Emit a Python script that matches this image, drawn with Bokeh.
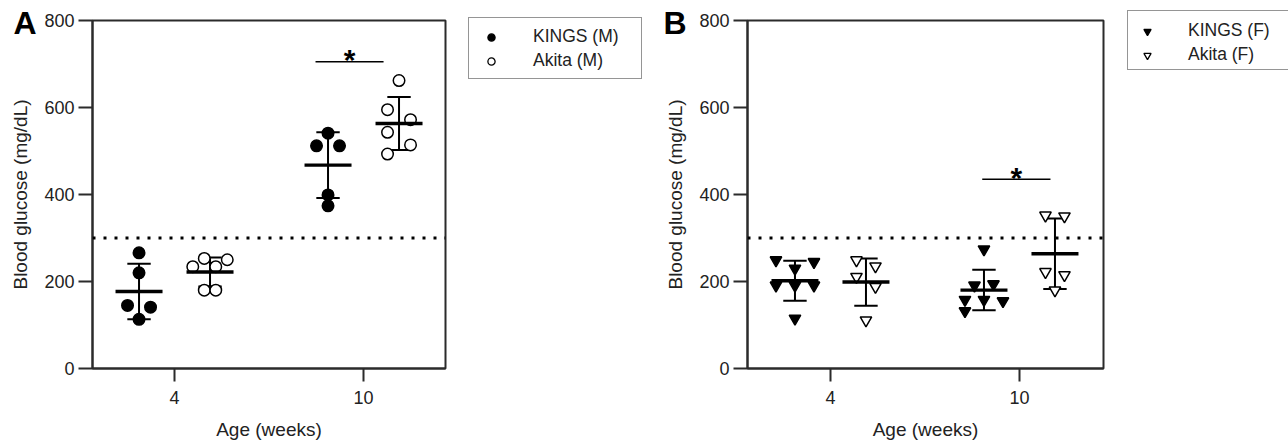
import numpy as np
from bokeh.plotting import figure
from bokeh.models import (Legend, LegendItem, Span, FixedTicker, Range1d,
                          ColumnDataSource)
from bokeh.layouts import row, column
from bokeh.embed import file_html
from bokeh.resources import INLINE
from bokeh.core.properties import value

# ---------------- data ----------------
age_ticks = [1, 2]
age_labels = ["4", "10"]

# Panel A (males)
kings_m_4 = [266, 220, 145, 141, 113]
akita_m_4 = [234, 253, 234, 250, 180, 180]
kings_m_10 = [541, 512, 512, 399, 374]
akita_m_10 = [662, 595, 572, 543, 514, 493]

# Panel B (females)
kings_f_4 = [249, 245, 230, 191, 191, 191, 115]
akita_f_4 = [249, 235, 211, 188, 111]
kings_f_10 = [274, 191, 194, 158, 158, 155, 132]
akita_f_10 = [352, 350, 222, 215, 180]

threshold = [300]
y_ticks = [0, 200, 400, 600, 800]

# significance brackets: [x0, x1, y] in data units
sig_a = [1.746, 2.106, 705]
sig_b = [1.803, 2.164, 435]

# swarm slots (horizontal spreading of overlapping points, in marker slots)
sw_kings_m_4 = [0, 0, -1, 1, 0]
sw_akita_m_4 = [-1.5, -0.5, 0.5, 1.5, -0.5, 0.5]
sw_kings_m_10 = [0, -1, 1, 0, 0]
sw_akita_m_10 = [0, -1, 1, -1, 1, -1]
sw_kings_f_4 = [-1, 1, 0, -1, 0, 1, 0]
sw_akita_f_4 = [-0.5, 0.5, -0.5, 0.5, 0]
sw_kings_f_10 = [0, -0.5, 0.5, -1, 0, 1, -1]
sw_akita_f_10 = [-0.5, 0.5, -0.5, 0.5, 0]

# ---------------- layout constants ----------------
PX_PER_UNIT = 189.0
GROUP_OFF = 35.5 / PX_PER_UNIT
MEAN_HALF = 23.5 / PX_PER_UNIT
CAP_HALF = 11.7 / PX_PER_UNIT
FONT = "Liberation Sans"
TXT = "#222222"
LINE = "#2b2b2b"
H = 443


def make_panel(width, left, right, xstart, series, letter, letter_off, sig):
    frame_w = width - left - right
    xend = xstart + frame_w / PX_PER_UNIT
    p = figure(width=width, height=H, x_range=Range1d(xstart, xend),
               y_range=Range1d(0, 800), min_border_left=left,
               min_border_right=right, min_border_top=20, min_border_bottom=75,
               output_backend="svg", toolbar_location=None, title=letter)
    p.xgrid.visible = False
    p.ygrid.visible = False
    p.outline_line_color = LINE
    p.outline_line_width = 2
    p.background_fill_color = "white"
    p.border_fill_color = "white"

    # panel letter as title
    p.title.text_font = FONT
    p.title.text_font_size = "32px"
    p.title.text_font_style = "bold"
    p.title.text_color = "black"
    p.title.align = "left"
    p.title.vertical_align = "bottom"
    p.title.offset = letter_off
    p.title.standoff = -40

    # axes
    xa = p.xaxis[0]
    xa.ticker = FixedTicker(ticks=age_ticks, minor_ticks=[])
    xa.major_label_overrides = {t: l for t, l in zip(age_ticks, age_labels)}
    xa.axis_label = "Age (weeks)"
    ya = p.yaxis[0]
    ya.ticker = FixedTicker(ticks=y_ticks, minor_ticks=[])
    ya.axis_label = "Blood glucose (mg/dL)"
    for ax in (xa, ya):
        ax.axis_line_color = LINE
        ax.axis_line_width = 2
        ax.major_tick_line_color = LINE
        ax.major_tick_line_width = 2
        ax.minor_tick_line_color = None
        ax.major_tick_in = 0
        ax.major_label_text_font = FONT
        ax.major_label_text_font_size = "18px"
        ax.major_label_text_color = TXT
        ax.axis_label_text_font = FONT
        ax.axis_label_text_font_size = "19px"
        ax.axis_label_text_font_style = "normal"
        ax.axis_label_text_color = TXT
    xa.major_tick_out = 13
    ya.major_tick_out = 14
    xa.major_label_standoff = 9
    ya.major_label_standoff = 4
    xa.axis_label_standoff = 12
    ya.axis_label_standoff = 10

    # threshold dotted line
    p.add_layout(Span(location=threshold[0], dimension="width",
                      line_color="black", line_width=3, line_dash="3 8"))

    for name, groups, marker, filled, slot_px, size in series:
        xs, ys = [], []
        for gi, (vals, sw, off) in enumerate(groups):
            base = age_ticks[gi] + off
            vals = np.asarray(vals, dtype=float)
            xs += list(base + np.asarray(sw) * slot_px / PX_PER_UNIT)
            ys += list(vals)
            m = vals.mean()
            s = vals.std(ddof=1)
            # SD whisker
            p.segment(x0=[base], y0=[m - s], x1=[base], y1=[m + s],
                      line_color="black", line_width=2)
            p.segment(x0=[base - CAP_HALF, base - CAP_HALF],
                      y0=[m - s, m + s],
                      x1=[base + CAP_HALF, base + CAP_HALF],
                      y1=[m - s, m + s], line_color="black", line_width=2)
        src = ColumnDataSource(dict(x=xs, y=ys))
        p.scatter("x", "y", source=src, marker=marker, size=size,
                  fill_color="black" if filled else "white",
                  line_color="black", line_width=1.5)
        # mean lines drawn on top
        for gi, (vals, sw, off) in enumerate(groups):
            base = age_ticks[gi] + off
            m = float(np.mean(vals))
            p.segment(x0=[base - MEAN_HALF], y0=[m], x1=[base + MEAN_HALF],
                      y1=[m], line_color="black", line_width=3.3)

    # significance marker
    p.segment(x0=[sig[0]], y0=[sig[2]], x1=[sig[1]], y1=[sig[2]],
              line_color="black", line_width=1.5)
    p.text(x=[(sig[0] + sig[1]) / 2], y=[sig[2]], text=["*"],
           text_font=value(FONT), text_font_size="30px",
           text_font_style="bold", text_align="center",
           text_baseline="alphabetic", y_offset=-2, text_color="black")
    return p


def make_legend(width, top, left, names, marker, pad, glyph_w, standoff):
    q = figure(width=width, height=H, x_range=Range1d(0, 1),
               y_range=Range1d(0, 1), min_border_left=left,
               min_border_right=0, min_border_bottom=0, min_border_top=top,
               output_backend="svg", toolbar_location=None, title=None)
    q.xaxis.visible = False
    q.yaxis.visible = False
    q.xgrid.visible = False
    q.ygrid.visible = False
    q.outline_line_color = None
    q.background_fill_color = "white"
    q.border_fill_color = "white"
    items = []
    for name, filled in zip(names, [True, False]):
        # legend-only key glyphs (placed outside the visible range)
        r = q.scatter(x=[-5.0], y=[-5.0], marker=marker, size=18,
                      fill_color="black" if filled else "white",
                      line_color="black", line_width=1.3)
        items.append(LegendItem(label=name, renderers=[r]))
    leg = Legend(items=items, location="top_left",
                 border_line_color=LINE, border_line_width=1.5,
                 background_fill_color="white", background_fill_alpha=1,
                 padding=pad, spacing=3, glyph_width=glyph_w,
                 glyph_height=18, label_height=18, label_width=100,
                 label_standoff=standoff, margin=0,
                 label_text_font=FONT, label_text_font_size="17.5px",
                 label_text_color=TXT)
    q.add_layout(leg)
    return q


pA = make_panel(
    460, 92, 15, 0.566,
    [("KINGS (M)", [(kings_m_4, sw_kings_m_4, -GROUP_OFF),
                    (kings_m_10, sw_kings_m_10, -GROUP_OFF)],
      "circle", True, 11.5, 11.5),
     ("Akita (M)", [(akita_m_4, sw_akita_m_4, GROUP_OFF),
                    (akita_m_10, sw_akita_m_10, GROUP_OFF)],
      "circle", False, 11.5, 11.5)],
    "A", -79, sig_a)
legA = make_legend(182, 17, 8, ["KINGS (M)", "Akita (M)"], "circle",
                   dict(left=8, right=8, top=8, bottom=7), 28, 28)

pB = make_panel(
    476, 105, 15, 0.561,
    [("KINGS (F)", [(kings_f_4, sw_kings_f_4, -GROUP_OFF),
                    (kings_f_10, sw_kings_f_10, -GROUP_OFF)],
      "inverted_triangle", True, 19, 11.5),
     ("Akita (F)", [(akita_f_4, sw_akita_f_4, GROUP_OFF),
                    (akita_f_10, sw_akita_f_10, GROUP_OFF)],
      "inverted_triangle", False, 19, 11.5)],
    "B", -84, sig_b)
legB = make_legend(170, 10, 9, ["KINGS (F)", "Akita (F)"], "inverted_triangle",
                   dict(left=6, right=6, top=9, bottom=4), 26, 28)

layout = row(pA, column(legA), pB, column(legB))
open("out.html", "w").write(file_html(layout, INLINE))
